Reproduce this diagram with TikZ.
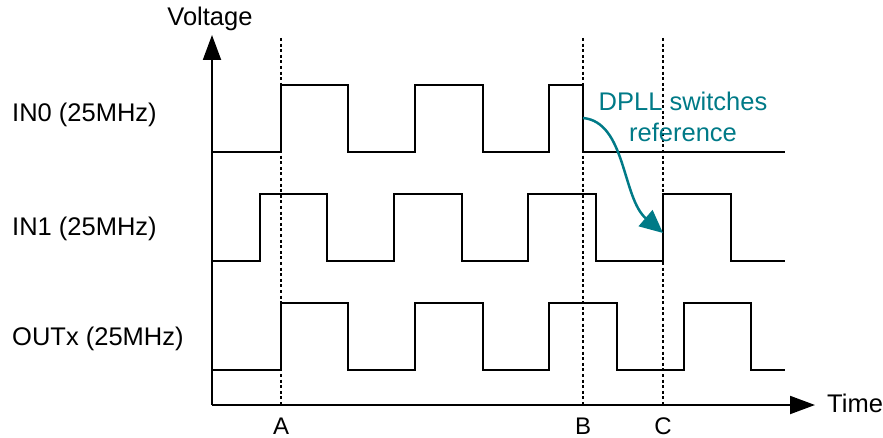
\documentclass[tikz,border=0pt]{standalone}
\usepackage{fontspec}
\setmainfont{Liberation Sans}
\usetikzlibrary{arrows.meta}
\definecolor{dpllteal}{RGB}{0,122,135}
\begin{document}
\begin{tikzpicture}[x=1pt,y=-1pt,
  wave/.style={line width=2.2pt, line join=miter},
  axisline/.style={line width=2pt, -{Triangle[length=25pt,width=18pt]}},
  marker/.style={line width=1.7pt, dash pattern=on 3pt off 2.6pt},
  lbl/.style={font=\fontsize{25.5}{30}\selectfont, inner sep=0pt},
  tick/.style={font=\fontsize{24}{29}\selectfont, inner sep=0pt},
  note/.style={font=\fontsize{25.5}{31}\selectfont, inner sep=0pt, text=dpllteal, align=center},
  switcharrow/.style={dpllteal, line width=2.5pt, -{Triangle[length=23pt,width=21pt]}}]
\useasboundingbox (0,0) rectangle (883,438);

% axes
\coordinate (O) at (212,405);
\coordinate (Ytop) at (212,35);
\coordinate (Xend) at (815,405);

% instants A, B, C
\foreach \n/\x in {A/281, B/583, C/663} {
  \coordinate (\n top) at (\x,38);
  \coordinate (\n bot) at (\x,405);
  \draw[marker] (\n top) -- (\n bot);
  \node[tick, anchor=base] (\n lbl) at (\x,434) {\n};
}

\draw[axisline] (O) -- (Ytop);
\draw[axisline] (O) -- (Xend);
\node[lbl, anchor=base] (vlabel) at (210,26) {Voltage};
\node[lbl, anchor=base west] (tlabel) at (827,412) {Time};

% signal names
\node[lbl, anchor=base west] (in0) at (12,122) {IN0 (25MHz)};
\node[lbl, anchor=base west] (in1) at (12,236) {IN1 (25MHz)};
\node[lbl, anchor=base west] (outx) at (12,345) {OUTx (25MHz)};

% IN0
\draw[wave] (212,152) -- (281,152) -- (281,85) -- (348,85) -- (348,152)
  -- (415,152) -- (415,85) -- (483,85) -- (483,152)
  -- (549,152) -- (549,85) -- (583,85) -- (583,152) -- (785,152);
% IN1
\draw[wave] (212,261) -- (260,261) -- (260,194) -- (327,194) -- (327,261)
  -- (394,261) -- (394,194) -- (462,194) -- (462,261)
  -- (528,261) -- (528,194) -- (596,194) -- (596,261)
  -- (663,261) -- (663,194) -- (731,194) -- (731,261) -- (785,261);
% OUTx
\draw[wave] (212,370) -- (281,370) -- (281,303) -- (348,303) -- (348,370)
  -- (415,370) -- (415,303) -- (483,303) -- (483,370)
  -- (549,370) -- (549,303) -- (617,303) -- (617,370)
  -- (684,370) -- (684,303) -- (751,303) -- (751,370) -- (785,370);

% reference switch
\coordinate (swfrom) at (583,118);
\coordinate (swto) at (663,233);
\draw[switcharrow] (swfrom) .. controls (626,122) and (622,198) .. (swto);
\node[note, anchor=base] (swnote) at (683,142) {DPLL switches\\reference};
\end{tikzpicture}
\end{document}
